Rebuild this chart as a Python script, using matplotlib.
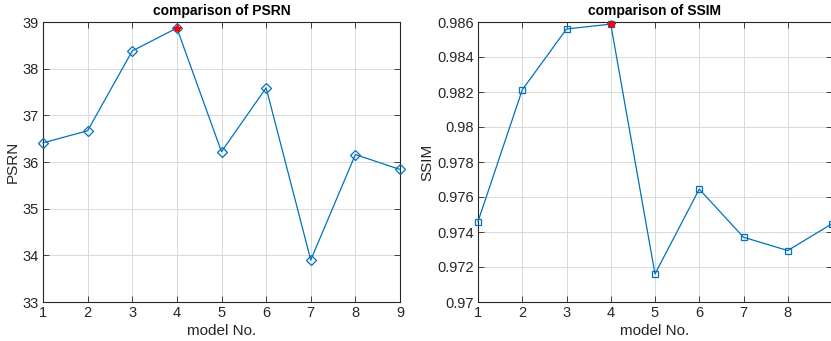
import matplotlib
matplotlib.use("Agg")
import matplotlib.pyplot as plt
from matplotlib.ticker import FuncFormatter

models = [1, 2, 3, 4, 5, 6, 7, 8, 9]
psnr = [36.41, 36.67, 38.38, 38.87, 36.22, 37.59, 33.90, 36.16, 35.84]
ssim = [0.97460, 0.98212, 0.98560, 0.98588, 0.97160, 0.97645, 0.97370, 0.97294, 0.97447]
psnr_ticks = [33, 34, 35, 36, 37, 38, 39]
ssim_ticks = [0.970, 0.972, 0.974, 0.976, 0.978, 0.980, 0.982, 0.984, 0.986]
ssim_xlabels = ['1', '2', '3', '4', '5', '6', '7', '8', '']

plt.rcParams['font.family'] = ['Liberation Sans', 'DejaVu Sans']
blue = '#0072BD'
dark = '#262626'

W, H = 831, 341
fig = plt.figure(figsize=(W / 100, H / 100), dpi=100)

def style(ax):
    ax.tick_params(direction='in', top=True, right=True, length=4, width=0.6,
                   colors=dark, labelsize=10.5, pad=3)
    for s in ax.spines.values():
        s.set_color(dark)
        s.set_linewidth(0.8)
    ax.grid(True, color='#d9d9d9', linewidth=0.7)
    ax.set_axisbelow(True)

ax1 = fig.add_axes([43 / W, 39 / H, 357 / W, 280 / H])
ax1.plot(models, psnr, color=blue, lw=0.9, marker='D', ms=5.5, mfc='none', mec=blue, mew=0.9,
         clip_on=False, zorder=3)
i1 = psnr.index(max(psnr))
ax1.plot([models[i1]], [psnr[i1]], marker='*', ms=6, color='red', mec='red', zorder=4)
ax1.set_xlim(1, 9)
ax1.set_ylim(33, 39)
ax1.set_xticks(models)
ax1.set_yticks(psnr_ticks)
style(ax1)
ax1.set_title('comparison of PSRN', fontsize=10, fontweight='bold', pad=5, color='black')
ax1.set_xlabel('model No.', fontsize=11, color=dark, labelpad=3)
ax1.set_ylabel('PSRN', fontsize=11, color=dark, labelpad=2)

ax2 = fig.add_axes([478 / W, 39 / H, 354 / W, 280 / H])
ax2.plot(models, ssim, color=blue, lw=0.9, marker='s', ms=5, mfc='none', mec=blue, mew=0.9,
         clip_on=False, zorder=3)
i2 = ssim.index(max(ssim))
ax2.plot([models[i2]], [ssim[i2]], marker='*', ms=6, color='red', mec='red', zorder=4,
         clip_on=False)
ax2.set_xlim(1, 9)
ax2.set_ylim(0.970, 0.986)
ax2.set_xticks(models)
ax2.set_xticklabels(ssim_xlabels)
ax2.set_yticks(ssim_ticks)
ax2.yaxis.set_major_formatter(FuncFormatter(lambda v, p: ('%.3f' % v).rstrip('0').rstrip('.')))
style(ax2)
ax2.set_title('comparison of SSIM', fontsize=10, fontweight='bold', pad=5, color='black')
ax2.set_xlabel('model No.', fontsize=11, color=dark, labelpad=3)
ax2.set_ylabel('SSIM', fontsize=11, color=dark, labelpad=2)

fig.savefig('out.png', dpi=100)
